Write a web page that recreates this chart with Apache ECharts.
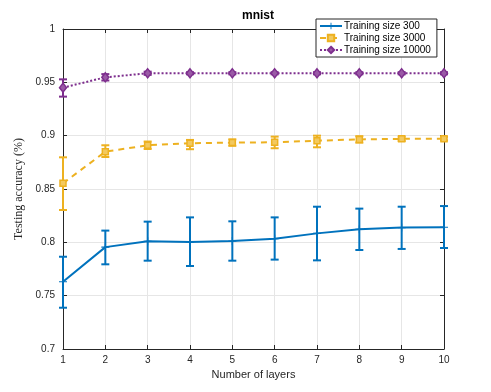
<!DOCTYPE html>
<html>
<head>
<meta charset="utf-8">
<script src="https://cdn.jsdelivr.net/npm/echarts@6/dist/echarts.min.js"></script>
<style>
  html, body { margin: 0; padding: 0; background: #fff; }
  #main { width: 491px; height: 392px; }
</style>
</head>
<body>
<div id="main"></div>
<script>
var layers = [1, 2, 3, 4, 5, 6, 7, 8, 9, 10];

// Training size 300
var mean300 = [0.763, 0.7955, 0.801, 0.8003, 0.8013, 0.8034, 0.8084, 0.8122, 0.8138, 0.8141];
var low300  = [0.7387, 0.7794, 0.7828, 0.7778, 0.7828, 0.7838, 0.7831, 0.7928, 0.7938, 0.7947];
var high300 = [0.7865, 0.811, 0.8194, 0.8234, 0.8197, 0.8234, 0.8334, 0.8316, 0.8334, 0.834];

// Training size 3000
var mean3000 = [0.8553, 0.885, 0.891, 0.8929, 0.8935, 0.8938, 0.8953, 0.8965, 0.897, 0.8972];
var low3000  = [0.8303, 0.880, 0.8875, 0.8873, 0.8905, 0.8882, 0.8891, 0.8935, 0.895, 0.8955];
var high3000 = [0.8797, 0.891, 0.8945, 0.896, 0.8965, 0.8991, 0.900, 0.8995, 0.899, 0.899];

// Training size 10000
var mean10000 = [0.945, 0.9547, 0.9585, 0.9585, 0.9585, 0.9585, 0.9585, 0.9585, 0.9585, 0.9585];
var low10000  = [0.9366, 0.9517, 0.9570, 0.9575, 0.9575, 0.9575, 0.9575, 0.9575, 0.9575, 0.9575];
var high10000 = [0.9528, 0.9577, 0.9600, 0.9595, 0.9595, 0.9595, 0.9595, 0.9595, 0.9595, 0.9595];

var names = ['Training size 300', 'Training size 3000', 'Training size 10000'];
var colors = ['#0072BD', '#EDB120', '#7E2F8E'];

function pairs(ys) {
    return layers.map(function (x, i) { return [x, ys[i]]; });
}
function bars(lo, hi) {
    return layers.map(function (x, i) { return [x, lo[i], hi[i]]; });
}

function errorBar(color) {
    return function (params, api) {
        var x = api.value(0);
        var p1 = api.coord([x, api.value(1)]);
        var p2 = api.coord([x, api.value(2)]);
        var w = 4;
        var st = { stroke: color, lineWidth: 2 };
        return {
            type: 'group',
            children: [
                { type: 'line', shape: { x1: p1[0], y1: p1[1], x2: p2[0], y2: p2[1] }, style: st },
                { type: 'line', shape: { x1: p1[0] - w, y1: p1[1], x2: p1[0] + w, y2: p1[1] }, style: st },
                { type: 'line', shape: { x1: p2[0] - w, y1: p2[1], x2: p2[0] + w, y2: p2[1] }, style: st }
            ]
        };
    };
}

var plusSymbol = 'path://M-1,-0.14H1V0.14H-1Z M-0.14,-1H0.14V1H-0.14Z';

var chart = echarts.init(document.getElementById('main'));
var option = {
    animation: false,
    title: {
        text: 'mnist',
        left: 253,
        textAlign: 'center',
        top: 5,
        textStyle: { fontFamily: 'Liberation Sans', fontSize: 12, fontWeight: 'bold', color: '#000' }
    },
    legend: {
        data: names,
        orient: 'vertical',
        left: 316,
        top: 19,
        padding: [2, 6, 2, 3],
        itemGap: 2,
        itemWidth: 22,
        itemHeight: 8,
        backgroundColor: '#fff',
        borderColor: '#262626',
        borderWidth: 1,
        borderRadius: 0,
        textStyle: { fontFamily: 'Liberation Sans', fontSize: 10, color: '#000', padding: [0, 0, 0, -3] }
    },
    grid: { left: 63, right: 47, top: 29, bottom: 43 },
    xAxis: [{
        type: 'value',
        min: 1,
        max: 10,
        interval: 1,
        name: 'Number of layers',
        nameLocation: 'middle',
        nameGap: 15,
        nameTextStyle: { fontFamily: 'Liberation Sans', fontSize: 11, color: '#262626' },
        axisLine: { lineStyle: { color: '#262626' } },
        axisTick: { inside: true, length: 4, lineStyle: { color: '#262626' } },
        axisLabel: { fontFamily: 'Liberation Sans', fontSize: 10, color: '#262626', margin: 6 },
        splitLine: { show: true, lineStyle: { color: '#e6e6e6' } }
    }, {
        type: 'value',
        position: 'top',
        min: 1,
        max: 10,
        interval: 1,
        axisLine: { show: true, lineStyle: { color: '#262626' } },
        axisTick: { show: true, inside: true, length: 4, lineStyle: { color: '#262626' } },
        axisLabel: { show: false },
        splitLine: { show: false }
    }],
    yAxis: [{
        type: 'value',
        min: 0.7,
        max: 1,
        interval: 0.05,
        name: 'Testing accuracy (%)',
        nameLocation: 'middle',
        nameGap: 37,
        nameTextStyle: { fontFamily: 'Liberation Serif', fontSize: 12, color: '#262626' },
        axisLine: { show: true, lineStyle: { color: '#262626' } },
        axisTick: { show: true, inside: true, length: 4, lineStyle: { color: '#262626' } },
        axisLabel: {
            fontFamily: 'Liberation Sans', fontSize: 10, color: '#262626', margin: 8,
            formatter: function (v) { return String(+v.toFixed(2)); }
        },
        splitLine: { show: true, lineStyle: { color: '#e6e6e6' } }
    }, {
        type: 'value',
        position: 'right',
        min: 0.7,
        max: 1,
        interval: 0.05,
        axisLine: { show: true, lineStyle: { color: '#262626' } },
        axisTick: { show: true, inside: true, length: 4, lineStyle: { color: '#262626' } },
        axisLabel: { show: false },
        splitLine: { show: false }
    }],
    series: [
        {
            name: names[0], type: 'line', data: pairs(mean300),
            symbol: plusSymbol, symbolSize: 8,
            lineStyle: { color: colors[0], width: 2, type: 'solid' },
            itemStyle: { color: colors[0] }, z: 3
        },
        {
            name: names[1], type: 'line', data: pairs(mean3000),
            symbol: 'rect', symbolSize: 6,
            lineStyle: { color: colors[1], width: 2, type: [6, 5] },
            itemStyle: { color: '#f3c95e', borderColor: colors[1], borderWidth: 1.5 }, z: 3
        },
        {
            name: names[2], type: 'line', data: pairs(mean10000),
            symbol: 'diamond', symbolSize: [7, 9],
            lineStyle: { color: colors[2], width: 2, type: [2, 2] },
            itemStyle: { color: '#9a5aa6', borderColor: colors[2], borderWidth: 1.5 }, z: 3
        },
        { type: 'custom', data: bars(low300, high300), renderItem: errorBar(colors[0]), z: 2, silent: true },
        { type: 'custom', data: bars(low3000, high3000), renderItem: errorBar(colors[1]), z: 2, silent: true },
        { type: 'custom', data: bars(low10000, high10000), renderItem: errorBar(colors[2]), z: 2, silent: true }
    ]
};
chart.setOption(option);
</script>
</body>
</html>
